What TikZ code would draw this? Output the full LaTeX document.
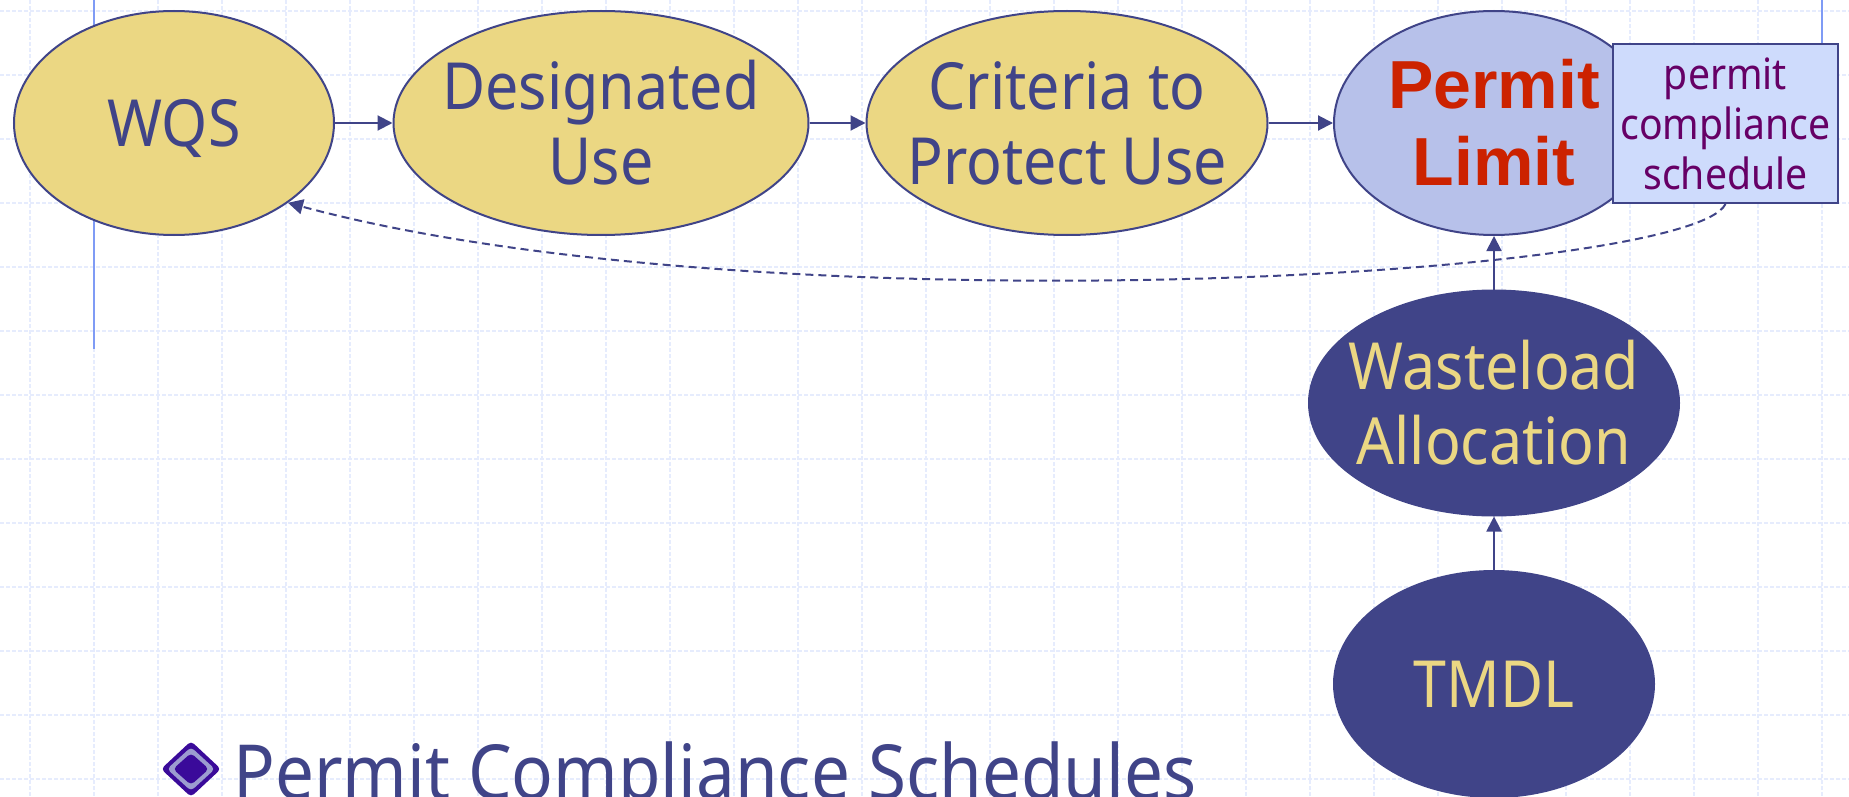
\documentclass[tikz,border=0pt]{standalone}
\usepackage{fontspec}
\setmainfont[FakeStretch=0.91]{Noto Sans}
\newfontfamily\heavy{Liberation Sans}
\usetikzlibrary{arrows.meta,shapes.geometric}
\definecolor{navy}{HTML}{404488}
\definecolor{sand}{HTML}{EBD783}
\definecolor{lilac}{HTML}{B7C1EA}
\definecolor{pale}{HTML}{CEDBFC}
\definecolor{plum}{HTML}{660066}
\definecolor{brick}{HTML}{CC2200}
\definecolor{rule}{HTML}{7F9BF5}
\definecolor{gridline}{HTML}{E6ECFD}
\definecolor{gem}{HTML}{3A0A9A}
\definecolor{gemring}{HTML}{9C9CD0}
\begin{document}
\begin{tikzpicture}[x=1pt,y=-1pt]

\tikzset{oval/.style = {shape=ellipse,draw=navy,line width=2pt,inner sep=-60pt,align=center,font=\fontsize{65}{75}\selectfont}}
\tikzset{light/.style = {oval,fill=sand,text=navy}}
\tikzset{dark/.style = {oval,fill=navy,text=sand}}
\tikzset{edge/.style = {draw=navy,line width=2pt,-{Triangle[length=15pt,width=15pt]}}}
\tikzset{gridrule/.style = {draw=gridline,line width=1.5pt,dash pattern=on 4pt off 2pt}}
\tikzset{sideline/.style = {draw=rule,line width=2pt}}
\tikzset{gemstyle/.style = {shape=diamond,inner sep=0pt,rounded corners=4pt}}
\clip (0,0) rectangle (1849,797);

%grid
\foreach \x in {30,94,...,1849} \draw[gridrule] (\x,0) -- (\x,797);
\foreach \y in {11,75,...,797} \draw[gridrule] (0,\y) -- (1849,\y);

%side lines
\coordinate (ltop) at (94,0);
\coordinate (lbot) at (94,349);
\coordinate (rtop) at (1822,0);
\coordinate (rbot) at (1822,44);
\draw[sideline] (ltop) -- (lbot);
\draw[sideline] (rtop) -- (rbot);

\node[light,minimum width=320pt,minimum height=224pt,text height=47pt,text depth=0pt] (wqs) at (174,123) {WQS};
\node[light,minimum width=415pt,minimum height=224pt] (use) at (601,123) {Designated\\Use};
\node[light,minimum width=401pt,minimum height=224pt] (crit) at (1067,123) {Criteria to\\Protect Use};
\node[oval,fill=lilac,text=brick,minimum width=320pt,minimum height=224pt,font=\fontsize{68}{77}\heavy\bfseries] (limit) at (1494,123) {Permit\\Limit};
\node[dark,minimum width=370pt,minimum height=225pt] (wla) at (1494,403) {Wasteload\\Allocation};
\node[dark,minimum width=320pt,minimum height=226pt] (tmdl) at (1494,684) {TMDL};
\node[draw=navy,fill=pale,text=plum,line width=2pt,inner sep=0pt,minimum width=225pt,minimum height=159pt,align=center,font=\fontsize{43}{50}\selectfont] (sched) at (1725.5,123.5) {permit\\compliance\\schedule};

%edges
\draw[edge] (wqs) to (use);
\draw[edge] (use) to (crit);
\draw[edge] (crit) to (limit);
\draw[edge] (wla) to (limit);
\draw[edge] (tmdl) to (wla);
\draw[edge,dash pattern=on 8pt off 5pt] (sched.south) .. controls (1690,278) and (760,330) .. (wqs.-35);

%bullet
\node[gemstyle,fill=gem,minimum width=60pt,minimum height=56pt] (gem) at (191,769) {};
\node[gemstyle,fill=gemring,minimum width=48pt,minimum height=44pt] (ring) at (gem) {};
\node[gemstyle,fill=gem,minimum width=36pt,minimum height=32pt] (core) at (gem) {};
\node[anchor=base west,inner sep=0pt,text=navy,font=\fontsize{76}{76}\selectfont] (title) at (233,799) {Permit Compliance Schedules};
\end{tikzpicture}
\end{document}
